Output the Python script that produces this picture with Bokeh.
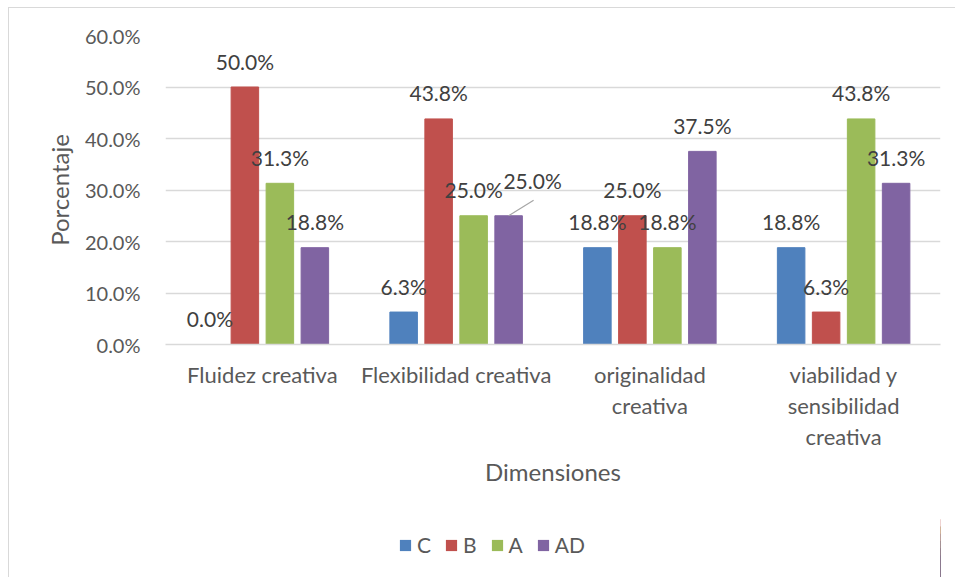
from bokeh.plotting import figure
from bokeh.layouts import column
from bokeh.models import (ColumnDataSource, Range1d, FixedTicker, PrintfTickFormatter,
                          Legend, LegendItem, LabelSet)
from bokeh.core.properties import value
from bokeh.embed import file_html
from bokeh.resources import INLINE

# ---------------- data ----------------
categories = ["Fluidez creativa", "Flexibilidad creativa",
              "originalidad creativa", "viabilidad y sensibilidad creativa"]
tick_labels = ["Fluidez creativa", "Flexibilidad creativa",
               "originalidad\ncreativa", "viabilidad y\nsensibilidad\ncreativa"]
series_names = ["C", "B", "A", "AD"]
C = [0.0, 6.3, 18.8, 18.8]
B = [50.0, 43.8, 25.0, 6.3]
A = [31.3, 25.0, 18.8, 43.8]
AD = [18.8, 25.0, 37.5, 31.3]
y_ticks = [0, 10, 20, 30, 40, 50, 60]
x_title = "Dimensiones"
y_title = "Porcentaje"

# ---------------- styling ----------------
colors = ["#4F81BD", "#C0504D", "#9BBB59", "#8064A2"]
FONT = "Lato"
GRID = "#d9d9d9"
TXT = "#595959"
LBL = "#404040"

W = 947
p = figure(width=W, height=500, output_backend="svg", toolbar_location=None,
           x_range=Range1d(0, len(categories)), y_range=Range1d(0, 60),
           min_border_left=156, min_border_right=16, min_border_top=27, min_border_bottom=164)
p.styles = {"border-left": "1px solid #d9d9d9", "border-top": "1px solid #d9d9d9"}
p.outline_line_color = None
p.background_fill_color = "white"
p.border_fill_color = "white"

step = 0.1806
bw = 0.142
all_series = [C, B, A, AD]
all_xs = []
for k, (name, vals) in enumerate(zip(series_names, all_series)):
    xs = [i + 0.5 + (k - 1.5) * step for i in range(len(categories))]
    all_xs.append(xs)
    # label offsets (only one label is moved off its bar, with a leader line)
    dx = [0] * len(vals)
    dy = [26] * len(vals)
    if name == "AD":
        dx[1] = 24
        dy[1] = 35
    src = ColumnDataSource(dict(x=xs, top=vals, lab=[f"{v:.1f}%" for v in vals], dx=dx, dy=dy))
    p.vbar(x="x", top="top", width=bw, source=src, fill_color=colors[k], line_color=colors[k])
    labels = LabelSet(x="x", y="top", text="lab", source=src, x_offset="dx", y_offset="dy",
                      text_align="center", text_baseline="middle",
                      text_font=value(FONT), text_font_size=value("21px"), text_color=value(LBL))
    p.add_layout(labels)
    if name == "AD":
        x0 = xs[1]
        y0 = vals[1]
        px_x = len(categories) / 775.0
        px_y = 60 / 308.5
        p.segment(x0=[x0], y0=[y0], x1=[x0 + 25 * px_x], y1=[y0 + 15.5 * px_y],
                  line_color="#a6a6a6", line_width=1.2)

# axes
p.xgrid.grid_line_color = None
p.ygrid.grid_line_color = GRID
p.ygrid.grid_line_width = 1.5
p.yaxis.ticker = FixedTicker(ticks=y_ticks)
p.yaxis.formatter = PrintfTickFormatter(format="%.1f%%")
p.yaxis.axis_line_color = None
p.yaxis.major_tick_line_color = None
p.yaxis.minor_tick_line_color = None
p.yaxis.major_label_standoff = 19
p.yaxis.major_label_text_font = FONT
p.yaxis.major_label_text_font_size = "20px"
p.yaxis.major_label_text_color = TXT
p.yaxis.axis_label = y_title
p.yaxis.axis_label_text_font = FONT
p.yaxis.axis_label_text_font_size = "24px"
p.yaxis.axis_label_text_font_style = "normal"
p.yaxis.axis_label_text_color = TXT
p.yaxis.axis_label_standoff = 8

p.xaxis.ticker = FixedTicker(ticks=[i + 0.5 for i in range(len(categories))])
p.xaxis.major_label_overrides = {i + 0.5: t for i, t in enumerate(tick_labels)}
p.xaxis.axis_line_color = GRID
p.xaxis.axis_line_width = 1.5
p.xaxis.major_tick_line_color = None
p.xaxis.minor_tick_line_color = None
p.xaxis.major_label_standoff = 10
p.xaxis.major_label_text_font = FONT
p.xaxis.major_label_text_font_size = "22px"
p.xaxis.major_label_text_line_height = 1.15
p.xaxis.major_label_text_color = TXT
p.xaxis.axis_label = x_title
p.xaxis.axis_label_text_font = FONT
p.xaxis.axis_label_text_font_size = "24px"
p.xaxis.axis_label_text_font_style = "normal"
p.xaxis.axis_label_text_color = TXT
p.xaxis.axis_label_standoff = 4

# legend strip below the chart (same series, placed far out of view; only the legend shows)
p2 = figure(width=W, height=70, output_backend="svg", toolbar_location=None,
            x_axis_type=None, y_axis_type=None, x_range=Range1d(-20, -19), y_range=Range1d(0, 60),
            min_border_left=0, min_border_right=0, min_border_top=0, min_border_bottom=0)
p2.styles = {"border-left": "1px solid #d9d9d9"}
p2.outline_line_color = None
p2.xgrid.grid_line_color = None
p2.ygrid.grid_line_color = None
items = []
for k, (name, vals) in enumerate(zip(series_names, all_series)):
    r = p2.vbar(x=all_xs[k], top=vals, width=bw, fill_color=colors[k], line_color=None)
    items.append(LegendItem(label=name, renderers=[r]))
legend = Legend(items=items, orientation="horizontal", location=(233, 20),
                glyph_width=14, glyph_height=14, label_standoff=5, spacing=13,
                label_width=12, label_height=20, padding=0, margin=0,
                border_line_color=None, background_fill_alpha=0,
                label_text_font=FONT, label_text_font_size="21px", label_text_color=TXT)
p2.add_layout(legend, "center")

layout = column(p, p2, spacing=0)
layout.margin = (7, 0, 0, 8)
open("out.html", "w").write(file_html(layout, INLINE))
